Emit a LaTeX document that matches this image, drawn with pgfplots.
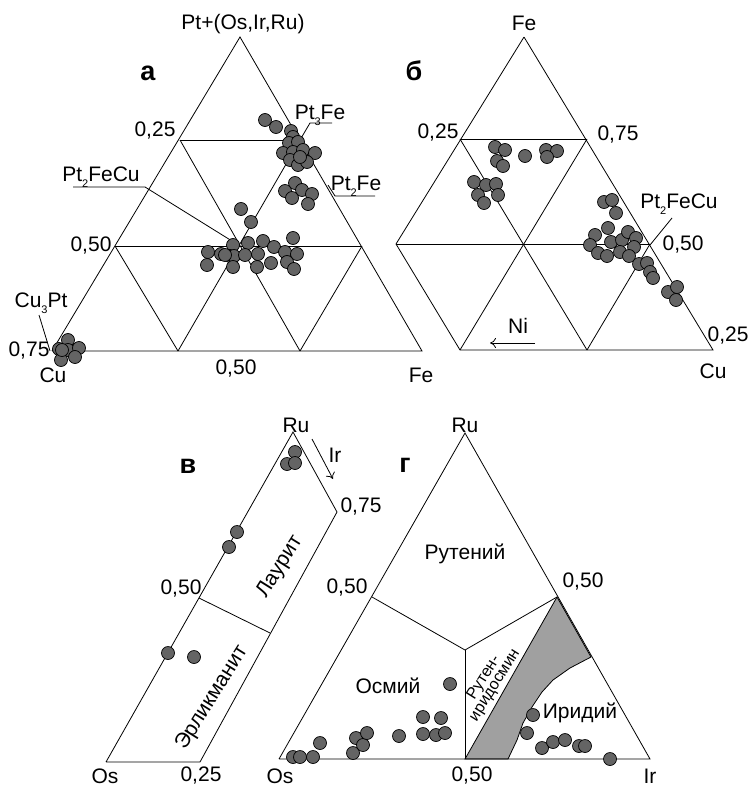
\documentclass[border=0pt]{standalone}
\usepackage{pgfplots}
\pgfplotsset{compat=1.18}
\usetikzlibrary{arrows.meta}
\usepackage{fontspec}
\setmainfont{Liberation Sans}
\definecolor{ptfill}{RGB}{100,100,100}
\definecolor{zone}{RGB}{160,160,160}
\newcommand{\sub}[1]{\raisebox{-0.3em}{\fontsize{11}{11}\selectfont #1}}
\tikzset{lab/.style={font=\fontsize{21}{24}\selectfont, inner sep=0pt},
  big/.style={font=\fontsize{27}{30}\selectfont\bfseries, inner sep=0pt},
  small/.style={font=\fontsize{16}{17}\selectfont, inner sep=0pt}}
\pgfplotsset{ln/.style={black, line width=0.8pt, mark=none},
  pts/.style={only marks, mark=*, mark size=6.5pt, mark options={fill=ptfill, draw=black, line width=0.7pt}}}
\begin{document}
\begin{tikzpicture}
\begin{axis}[hide axis, scale only axis, width=750pt, height=789pt,
  xmin=0, xmax=750, ymin=0, ymax=789, y dir=reverse, clip=false]
\path (rel axis cs:0,0) rectangle (rel axis cs:1,1);
% ---------- a ----------
\addplot[ln] coordinates {(52,351) (240,37) (422,351) (52,351)};
\addplot[ln] coordinates {(180,140) (300,140)};
\addplot[ln] coordinates {(115,246) (362,246)};
\addplot[ln] coordinates {(180,140) (300,351)};
\addplot[ln] coordinates {(300,140) (178,351)};
\addplot[ln] coordinates {(115,246) (178,351)};
\addplot[ln] coordinates {(362,246) (300,351)};
\addplot[ln] coordinates {(73,187) (145,187) (240,246)};
\addplot[ln] coordinates {(332,123) (310,123) (300,140)};
\addplot[ln] coordinates {(375,196) (335,196) (328,185)};
\addplot[ln] coordinates {(39,315) (50,351)};
\addplot[pts] coordinates {
(68,340) (59,349) (68,350) (79,348) (61,360) (75,357) (62,350)
(265,120) (276,127) (291,131) (293,137) (289,143) (298,142) (283,153) (293,152) (303,150) (315,153) (290,160) (298,165) (307,162) (300,157)
(295,183) (285,191) (302,190) (312,194) (292,198) (308,204)
(241,209) (251,222) (233,245) (248,243) (263,241) (274,247) (293,238) (208,252) (221,254) (230,256) (234,256) (245,255) (258,254) (285,252) (297,254) (207,265) (233,267) (257,267) (271,263) (287,262) (294,269) (225,255)
};
\node[lab] at (axis cs:243,24) {Pt+(Os,Ir,Ru)};
\node[big] at (axis cs:148,73) {а};
\node[lab] at (axis cs:320,115) {Pt\sub{3}Fe};
\node[lab] at (axis cs:155,131) {0,25};
\node[lab] at (axis cs:101,177) {Pt\sub{2}FeCu};
\node[lab] at (axis cs:356,186) {Pt\sub{2}Fe};
\node[lab] at (axis cs:91,246) {0,50};
\node[lab] at (axis cs:41,303) {Cu\sub{3}Pt};
\node[lab] at (axis cs:29,351) {0,75};
\node[lab] at (axis cs:53,375) {Cu};
\node[lab] at (axis cs:236,369) {0,50};
\node[lab] at (axis cs:421,375) {Fe};
% ---------- б ----------
\addplot[ln] coordinates {(524,37) (713,350) (460,350) (396,244) (524,37)};
\addplot[ln] coordinates {(460,139) (587,139)};
\addplot[ln] coordinates {(396,244) (650,244)};
\addplot[ln] coordinates {(460,139) (587,350)};
\addplot[ln] coordinates {(587,139) (460,350)};
\addplot[ln] coordinates {(650,244) (587,350)};
\addplot[ln] coordinates {(672,218) (650,245)};
\draw[line width=0.8pt, -{To[length=6pt,width=10pt]}] (axis cs:535,343) -- (axis cs:490,343);
\addplot[pts] coordinates {
(495,147) (505,150) (497,161) (503,166) (525,156) (546,150) (557,151) (547,157)
(474,182) (486,185) (496,184) (478,195) (498,195) (484,203)
(604,202) (612,200) (616,213) (608,228) (595,235) (590,245) (611,242) (622,240) (628,232) (636,238) (634,247) (598,253) (607,256) (620,252) (629,256) (639,264) (647,263) (650,272) (653,278) (668,292) (677,287) (676,300)
};
\node[lab] at (axis cs:524,23) {Fe};
\node[big] at (axis cs:414,71) {б};
\node[lab] at (axis cs:438,133) {0,25};
\node[lab] at (axis cs:618,135) {0,75};
\node[lab] at (axis cs:679,204) {Pt\sub{2}FeCu};
\node[lab] at (axis cs:683,245) {0,50};
\node[lab] at (axis cs:728,336) {0,25};
\node[lab] at (axis cs:713,371) {Cu};
\node[lab] at (axis cs:518,326) {Ni};
% ---------- в ----------
\addplot[ln] coordinates {(106,762) (293,432) (337,512) (200,762) (106,762)};
\addplot[ln] coordinates {(199,598) (270,633)};
\draw[line width=0.8pt, -{To[length=6pt,width=10pt]}] (axis cs:312,439) -- (axis cs:333,479);
\addplot[pts] coordinates {(295,452) (287,464) (295,463) (237,532) (229,547) (168,653) (194,657)};
\node[lab] at (axis cs:296,425) {Ru};
\node[big] at (axis cs:188,466) {в};
\node[lab] at (axis cs:335,455) {Ir};
\node[lab] at (axis cs:361,507) {0,75};
\node[lab] at (axis cs:181,589) {0,50};
\node[lab] at (axis cs:201,776) {0,25};
\node[lab] at (axis cs:105,776) {Os};
\node[lab, rotate=58] at (axis cs:280,567) {Лаурит};
\node[lab, rotate=58] at (axis cs:212,698) {Эрликманит};
% ---------- г ----------
\addplot[fill=zone, draw=black, line width=0.8pt, mark=none] coordinates {
(557,597) (591,657) (570,668) (553,680) (542,692) (532,707) (523,723) (517,740) (508,759) (465,759) (557,597)};
\addplot[ln] coordinates {(279,759) (465,433) (650,759) (279,759)};
\addplot[ln] coordinates {(372,597) (465,650) (557,597)};
\addplot[ln] coordinates {(465,650) (465,759)};
\addplot[pts] coordinates {
(293,757) (300,757) (313,757) (320,743) (353,753) (356,738) (363,745) (367,733) (399,736) (423,717) (441,718) (423,734) (436,735) (445,733) (450,684)
(533,715) (527,733) (542,748) (553,742) (565,740) (579,746) (585,746) (610,759)
};
\node[lab] at (axis cs:465,425) {Ru};
\node[big] at (axis cs:405,465) {г};
\node[lab] at (axis cs:465,554) {Рутений};
\node[lab] at (axis cs:347,588) {0,50};
\node[lab] at (axis cs:583,582) {0,50};
\node[lab] at (axis cs:388,686) {Осмий};
\node[lab] at (axis cs:580,713) {Иридий};
\node[lab] at (axis cs:280,776) {Os};
\node[lab] at (axis cs:472,776) {0,50};
\node[lab] at (axis cs:650,776) {Ir};
\node[small, rotate=58] at (axis cs:484,678) {Рутен-};
\node[small, rotate=58] at (axis cs:496,686) {иридосмин};
\end{axis}
\end{tikzpicture}
\end{document}
